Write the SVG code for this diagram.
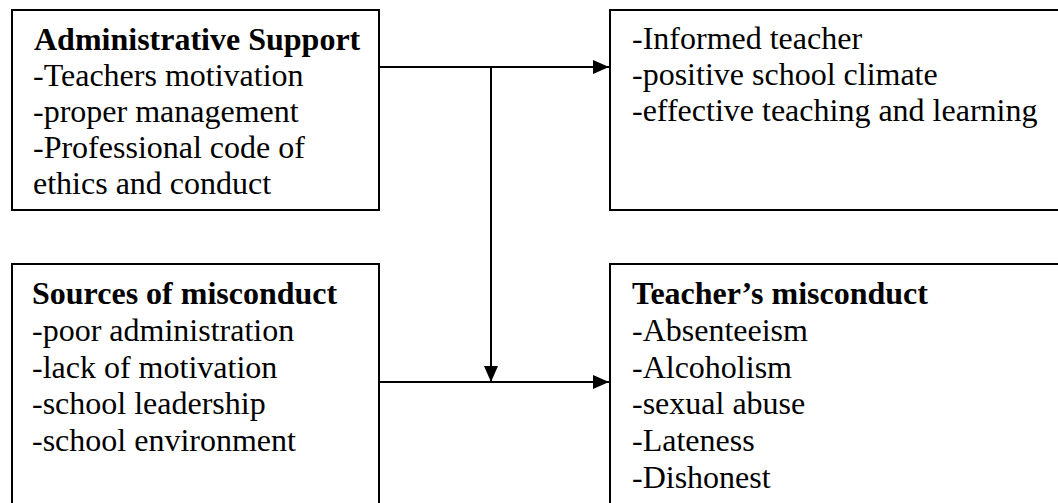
<svg xmlns="http://www.w3.org/2000/svg" width="1058" height="503" viewBox="0 0 1058 503">
<style>
.box{fill:#fff;stroke:#000;stroke-width:2}
.t{font-family:"Liberation Serif","Times New Roman",serif;font-size:32px;fill:#000}
.b{font-weight:bold}
.c{stroke:#000;stroke-width:2;fill:none}
</style>
<defs>
<marker id="ah" markerWidth="16" markerHeight="16" viewBox="0 0 16 16" refX="16" refY="8" orient="auto" markerUnits="userSpaceOnUse">
<path d="M0,1 L16,8 L0,15 Z" fill="#000"/>
</marker>
</defs>
<rect width="1058" height="503" fill="#fff"/>
<g id="admin-support">
<rect class="box" x="12" y="10" width="367" height="200"/>
<text class="t b" x="34" y="50">Administrative Support</text>
<text class="t" x="33" y="86">-Teachers motivation</text>
<text class="t" x="33" y="122">-proper management</text>
<text class="t" x="33" y="158">-Professional code of</text>
<text class="t" x="33" y="194">ethics and conduct</text>
</g>
<g id="outcomes">
<rect class="box" x="610" y="10" width="460" height="200"/>
<text class="t" x="632" y="49">-Informed teacher</text>
<text class="t" x="632" y="85">-positive school climate</text>
<text class="t" x="632" y="121">-effective teaching and learning</text>
</g>
<g id="sources">
<rect class="box" x="12" y="264" width="367" height="260"/>
<text class="t b" x="32" y="304">Sources of misconduct</text>
<text class="t" x="32" y="341">-poor administration</text>
<text class="t" x="32" y="378">-lack of motivation</text>
<text class="t" x="32" y="414">-school leadership</text>
<text class="t" x="32" y="451">-school environment</text>
</g>
<g id="teacher-misconduct">
<rect class="box" x="610" y="264" width="460" height="260"/>
<text class="t b" x="632" y="304">Teacher’s misconduct</text>
<text class="t" x="632" y="341">-Absenteeism</text>
<text class="t" x="632" y="378">-Alcoholism</text>
<text class="t" x="632" y="414">-sexual abuse</text>
<text class="t" x="632" y="451">-Lateness</text>
<text class="t" x="632" y="488">-Dishonest</text>
</g>
<g id="connectors">
<line class="c" x1="379" y1="67" x2="609" y2="67" marker-end="url(#ah)"/>
<line class="c" x1="491" y1="67" x2="491" y2="382" marker-end="url(#ah)"/>
<line class="c" x1="379" y1="382" x2="609" y2="382" marker-end="url(#ah)"/>
</g>
</svg>
